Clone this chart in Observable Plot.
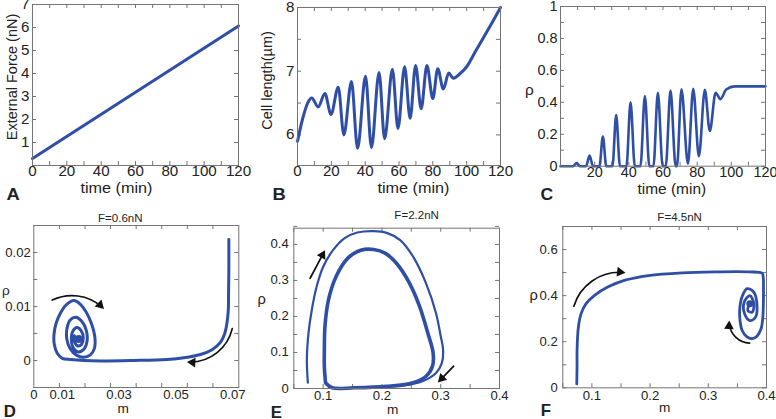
<!DOCTYPE html>
<html><head><meta charset="utf-8">
<script src="https://cdn.jsdelivr.net/npm/d3@7"></script>
<script src="https://cdn.jsdelivr.net/npm/@observablehq/plot@0.6"></script>
<style>
html,body{margin:0;padding:0;background:#fff;}
#fig{position:relative;width:776px;height:419px;overflow:hidden;background:#fff;}
#fig svg{position:absolute;left:0;top:0;}
</style></head><body><div id="fig"></div>
<script>
// ---------- Panel A: external force ----------
const forceTime = [0, 120];
const forceValue = [0.3, 6.07];
// ---------- Panel B: cell length ----------
const lengthTime  = [0, 3, 6, 8.4, 12.2, 16.2, 19.8, 24.1, 27.4, 31.9, 35.5, 40.2, 43.7, 48.2, 51.5, 56.1, 59.4, 63.3, 66.6, 69.8, 73.1, 76.5, 80, 82.9, 86.2, 89.4, 92.1, 96, 100, 105, 110, 115, 120];
const lengthValue = [5.9, 6.25, 6.5, 6.58, 6.44, 6.65, 6.32, 6.75, 6.0, 6.84, 5.79, 6.92, 5.80, 6.98, 5.94, 7.03, 6.10, 7.07, 6.26, 7.09, 6.41, 7.09, 6.57, 7.04, 6.72, 6.97, 6.89, 6.96, 7.07, 7.3, 7.53, 7.76, 8.0];
// ---------- Panel C: rho vs time ----------
const rhoTime  = [0, 7.5, 9.4, 11.3, 15, 17, 19, 22.8, 24.8, 26.8, 30.4, 32.6, 34.8, 38.6, 41.0, 43.5, 46.8, 49.4, 52, 54.4, 57.0, 59.8, 61.6, 64.4, 67.4, 68.2, 70.8, 74.6, 77.7, 81, 84.5, 87.4, 90.8, 93.6, 97, 102, 120];
const rhoValue = [0, 0, 0.02, 0, 0, 0.067, 0, 0, 0.186, 0, 0, 0.32, 0, 0, 0.40, 0, 0, 0.44, 0, 0, 0.46, 0, 0, 0.474, 0, 0, 0.482, 0.015, 0.484, 0.063, 0.478, 0.22, 0.46, 0.42, 0.48, 0.5, 0.5];
// ---------- Panel D: F = 0.6 nN ----------
const dM   = [0.0686, 0.0686, 0.0685, 0.0684, 0.0679, 0.0671, 0.0657, 0.0627, 0.0586, 0.0528, 0.0469, 0.0352, 0.0235, 0.0176, 0.0129, 0.0100, 0.0082, 0.0072, 0.0071, 0.0078, 0.0093, 0.0114, 0.0141, 0.0164, 0.0184, 0.0203, 0.0215, 0.0213, 0.0198, 0.0175, 0.0150, 0.0128, 0.0116, 0.0117, 0.0128, 0.0148, 0.0168, 0.0185, 0.0187, 0.0175, 0.0155, 0.0138, 0.0132, 0.0137, 0.0152, 0.0167, 0.0174, 0.0168, 0.0155, 0.0144, 0.0143];
const dRho = [0.0224, 0.0173, 0.0124, 0.0093, 0.0068, 0.0049, 0.0034, 0.0020, 0.0011, 0.0005, 0.0002, 0.0000, -0.0001, 0.0000, 0.0002, 0.0004, 0.0014, 0.0030, 0.0048, 0.0068, 0.0087, 0.0103, 0.0111, 0.0104, 0.0090, 0.0068, 0.0042, 0.0022, 0.0010, 0.0006, 0.0010, 0.0022, 0.0040, 0.0060, 0.0075, 0.0080, 0.0073, 0.0055, 0.0035, 0.0020, 0.0016, 0.0024, 0.0040, 0.0054, 0.0061, 0.0055, 0.0042, 0.0030, 0.0027, 0.0034, 0.0046];
const dCenter = [{m: 0.0158, rho: 0.0040}];
const dArrows = [
  {x1: 0.0065, y1: 0.0112, x2: 0.0246, y2: 0.0096, bend: 35},
  {x1: 0.0698, y1: 0.0059, x2: 0.0540, y2: -0.0003, bend: 40}
];
// ---------- Panel E: F = 2.2 nN ----------
const eOuterM   = [0.0739, 0.0722, 0.075, 0.0806, 0.0889, 0.100, 0.1167, 0.136, 0.158, 0.186, 0.208, 0.231, 0.253, 0.275, 0.292, 0.300, 0.304, 0.302, 0.292, 0.269, 0.236, 0.197, 0.153, 0.114, 0.106, 0.103];
const eOuterRho = [0.016, 0.080, 0.154, 0.218, 0.283, 0.338, 0.384, 0.417, 0.433, 0.437, 0.432, 0.412, 0.366, 0.292, 0.209, 0.145, 0.108, 0.071, 0.043, 0.020, 0.008, 0.004, 0.002, 0.002, 0.011, 0.043];
const eCycleM   = [0.104, 0.102, 0.102, 0.103, 0.109, 0.122, 0.142, 0.164, 0.186, 0.206, 0.225, 0.247, 0.264, 0.278, 0.287, 0.286, 0.275, 0.253, 0.208, 0.153, 0.115, 0.104];
const eCycleRho = [0.016, 0.060, 0.108, 0.172, 0.246, 0.311, 0.362, 0.384, 0.386, 0.375, 0.347, 0.292, 0.228, 0.154, 0.099, 0.062, 0.034, 0.016, 0.006, 0.002, 0.002, 0.016];
const eArrows = [
  {x1: 0.0778, y1: 0.306, x2: 0.1028, y2: 0.383, bend: 0},
  {x1: 0.322, y1: 0.062, x2: 0.2956, y2: 0.0175, bend: 0}
];
// ---------- Panel F: F = 4.5 nN ----------
const fM   = [0.074, 0.0745, 0.0745, 0.0768, 0.0815, 0.090, 0.1046, 0.128, 0.157, 0.197, 0.255, 0.313, 0.371, 0.3926, 0.3944, 0.3948, 0.3946, 0.3935, 0.3905, 0.384, 0.3754, 0.366, 0.358, 0.3545, 0.3541, 0.358, 0.3668, 0.3782, 0.3835, 0.3811, 0.3713, 0.3625, 0.3615, 0.3713, 0.3782, 0.3754, 0.368, 0.370];
const fRho = [0.017, 0.100, 0.162, 0.264, 0.322, 0.365, 0.401, 0.438, 0.467, 0.487, 0.499, 0.503, 0.503, 0.497, 0.480, 0.430, 0.360, 0.300, 0.255, 0.225, 0.213, 0.222, 0.250, 0.292, 0.345, 0.395, 0.430, 0.415, 0.365, 0.306, 0.292, 0.320, 0.370, 0.400, 0.365, 0.328, 0.335, 0.360];
const fCenter = [{m: 0.3713, rho: 0.365}];
const fArrows = [
  {x1: 0.069, y1: 0.354, x2: 0.157, y2: 0.500, bend: 40},
  {x1: 0.371, y1: 0.194, x2: 0.336, y2: 0.290, bend: 45}
];
// ---------- ticks & labels ----------
const timeTickMarks = [0, 10, 20, 30, 40, 50, 60, 70, 80, 90, 100, 110, 120];
const timeTickLabels = [0, 20, 40, 60, 80, 100, 120];
const timeTickLabelsC = [20, 40, 60, 80, 100, 120];
const forceTickMarks = [0, 1, 2, 3, 4, 5, 6, 7];
const forceTickLabels = [1, 2, 3, 4, 5, 6, 7];
const lengthTickMarks = [6, 6.5, 7, 7.5, 8];
const lengthTickLabels = [6, 7, 8];
const rhoCTickMarks = [0, 0.1, 0.2, 0.3, 0.4, 0.5, 0.6, 0.7, 0.8, 0.9, 1];
const rhoCTickLabels = [0, 0.2, 0.4, 0.6, 0.8, 1];
const dMTickMarks = [0.009, 0.018, 0.027, 0.036, 0.045, 0.054, 0.063];
const dMTickLabels = [0, 0.01, 0.03, 0.05, 0.07];
const dRhoTickMarks = [-0.005, 0, 0.005, 0.01, 0.015, 0.02, 0.025];
const dRhoTickLabels = [0, 0.01, 0.02];
const mTickMarks = [0.05, 0.1, 0.15, 0.2, 0.25, 0.3, 0.35, 0.4];
const mTickLabels = [0.1, 0.2, 0.3, 0.4];
const eRhoTickMarks = [0, 0.05, 0.1, 0.15, 0.2, 0.25, 0.3, 0.35, 0.4, 0.45];
const eRhoTickLabels = [0, 0.1, 0.2, 0.3, 0.4];
const fRhoTickMarks = [0, 0.1, 0.2, 0.3, 0.4, 0.5, 0.6, 0.7];
const fRhoTickLabels = [0, 0.2, 0.4, 0.6];

const BLUE = "#2f4ea5";
const FONT = "'Liberation Sans', Arial, Helvetica, sans-serif";
const TC = "#747474";
const W = 776, H = 419;

// widen horizontal text slightly (the reference figure is stretched horizontally)
function stretch(svg, k) {
  for (const t of svg.querySelectorAll("text")) {
    const tr = t.getAttribute("transform") || "";
    if (/rotate/.test(tr)) continue;
    const xa = t.getAttribute("x");
    let pre = "";
    if (xa != null && xa !== "" && !isNaN(+xa)) { pre = ` translate(${+xa},0)`; t.removeAttribute("x"); }
    t.setAttribute("transform", `${tr}${pre} scale(${k},1)`);
  }
}

function label(text, o) {
  return Plot.text([text], {text: d => d, fill: "#222", textAnchor: "middle", ...o});
}

// curved arrows with filled heads; the head is oriented along the arc's end tangent
function arrows(list, o) {
  const [L, T, R, B] = o.box;
  const sx = (R - L) / (o.xd[1] - o.xd[0]), sy = -(B - T) / (o.yd[1] - o.yd[0]);
  return list.flatMap(a => {
    const la = Math.atan2((a.y2 - a.y1) * sy, (a.x2 - a.x1) * sx);
    const phi = la + a.bend * Math.PI / 180;
    const off = 5.2;
    return [
      Plot.arrow([a], {x1: "x1", y1: "y1", x2: "x2", y2: "y2", bend: a.bend, stroke: "#111", strokeWidth: 1.7, headLength: 0, insetEnd: 3}),
      Plot.dot([a], {x: "x2", y: "y2", symbol: "triangle", r: 3.6, fill: "#111", stroke: "none",
        rotate: phi * 180 / Math.PI + 90, dx: -Math.cos(phi) * off, dy: -Math.sin(phi) * off})
    ];
  });
}

function panel(o) {
  const [L, T, R, B] = o.box;
  const fw = R - L, fh = B - T;
  const svg = Plot.plot({
    width: W, height: H,
    marginLeft: L, marginTop: T, marginRight: W - R, marginBottom: H - B,
    style: {fontFamily: FONT, fontSize: o.fs + "px", color: "#222", background: "transparent", overflow: "visible"},
    x: {domain: o.xd, ticks: o.xl, tickSize: 0, tickPadding: o.xp, tickFormat: d => String(d), label: null},
    y: {domain: o.yd, ticks: o.yl, tickSize: 0, tickPadding: o.yp, tickFormat: d => String(d), label: null},
    marks: [
      Plot.tickX(o.xt, {x: d => d, insetTop: fh - 4, stroke: TC}),
      Plot.tickX(o.xt, {x: d => d, insetBottom: fh - 4, stroke: TC}),
      Plot.tickY(o.yt, {y: d => d, insetRight: fw - 4, stroke: TC}),
      Plot.tickY(o.yt, {y: d => d, insetLeft: fw - 4, stroke: TC}),
      ...o.marks,
      ...(o.arrows ? arrows(o.arrows, o) : []),
      Plot.frame({stroke: TC}),
      ...o.texts
    ]
  });
  document.getElementById("fig").appendChild(svg);
  stretch(svg, o.k);
}

// A
panel({
  box: [32, 4, 238, 165], fs: 14, k: 1.08,
  xd: [0, 120], yd: [0, 7], xt: timeTickMarks, xl: timeTickLabels, yt: forceTickMarks, yl: forceTickLabels, xp: 1, yp: 3,
  marks: [Plot.line(forceTime, {x: forceTime, y: forceValue, stroke: BLUE, strokeWidth: 3})],
  texts: [
    label("time (min)", {frameAnchor: "bottom-left", dx: 48, dy: 27, textAnchor: "start", lineAnchor: "bottom", fontSize: 15}),
    label("External Force (nN)", {frameAnchor: "left", dx: -20, dy: -8, rotate: -90, lineAnchor: "middle", fontSize: 14.5}),
    label("A", {frameAnchor: "bottom-left", dx: -26, dy: 34, textAnchor: "start", lineAnchor: "bottom", fontSize: 17, fontWeight: "bold"})
  ]
});
// B
panel({
  box: [297, 7, 500, 165], fs: 14, k: 1.08,
  xd: [0, 120], yd: [5.52, 8], xt: timeTickMarks, xl: timeTickLabels, yt: lengthTickMarks, yl: lengthTickLabels, xp: 1, yp: 3,
  marks: [Plot.line(lengthTime, {x: lengthTime, y: lengthValue, stroke: BLUE, strokeWidth: 3, curve: "monotone-x"})],
  texts: [
    label("time (min)", {frameAnchor: "bottom-left", dx: 80, dy: 27, textAnchor: "start", lineAnchor: "bottom", fontSize: 15}),
    label("Cell length(µm)", {frameAnchor: "left", dx: -30, dy: -6, rotate: -90, lineAnchor: "middle", fontSize: 14.5}),
    label("B", {frameAnchor: "bottom-left", dx: -25, dy: 34, textAnchor: "start", lineAnchor: "bottom", fontSize: 17, fontWeight: "bold"})
  ]
});
// C
panel({
  box: [560, 6, 765, 165.7], fs: 14, k: 1.03,
  xd: [0, 120], yd: [0, 1], xt: timeTickMarks, xl: timeTickLabelsC, yt: rhoCTickMarks, yl: rhoCTickLabels, xp: 1, yp: 3,
  marks: [Plot.line(rhoTime, {x: rhoTime, y: rhoValue, stroke: BLUE, strokeWidth: 2.6, curve: "monotone-x"})],
  texts: [
    label("time (min)", {frameAnchor: "bottom-left", dx: 77, dy: 28, textAnchor: "start", lineAnchor: "bottom", fontSize: 15}),
    label("ρ", {frameAnchor: "left", dx: -31, dy: 4, lineAnchor: "middle", fontSize: 15}),
    label("C", {frameAnchor: "bottom-left", dx: -20, dy: 34, textAnchor: "start", lineAnchor: "bottom", fontSize: 17, fontWeight: "bold"})
  ]
});
// D
panel({
  box: [33.3, 225, 238.3, 387], fs: 12.5, k: 1.05,
  xd: [0, 0.0721], yd: [-0.005, 0.025], xt: dMTickMarks, xl: dMTickLabels, yt: dRhoTickMarks, yl: dRhoTickLabels, xp: 3, yp: 3,
  marks: [
    Plot.line(dM, {x: dM, y: dRho, stroke: BLUE, strokeWidth: 3, curve: "catmull-rom"}),
    Plot.dot(dCenter, {x: "m", y: "rho", r: 4, fill: BLUE})
  ],
  arrows: dArrows,
  texts: [
    label("F=0.6nN", {frameAnchor: "top", dx: -16, dy: -4, lineAnchor: "bottom", fontSize: 11}),
    label("m", {frameAnchor: "bottom", dx: -13, dy: 25, lineAnchor: "bottom", fontSize: 13}),
    label("ρ", {frameAnchor: "left", dx: -28, dy: -16, lineAnchor: "middle", fontSize: 13}),
    label("D", {frameAnchor: "bottom-left", dx: -30, dy: 29, textAnchor: "start", lineAnchor: "bottom", fontSize: 16, fontWeight: "bold"})
  ]
});
// E
panel({
  box: [293.3, 227.7, 499, 388], fs: 12.5, k: 1.05,
  xd: [0.05, 0.4], yd: [0, 0.445], xt: mTickMarks, xl: mTickLabels, yt: eRhoTickMarks, yl: eRhoTickLabels, xp: 3, yp: 5,
  marks: [
    Plot.line(eOuterM, {x: eOuterM, y: eOuterRho, stroke: BLUE, strokeWidth: 2.2, curve: "catmull-rom"}),
    Plot.line(eCycleM, {x: eCycleM, y: eCycleRho, stroke: BLUE, strokeWidth: 3.6, curve: "catmull-rom"})
  ],
  arrows: eArrows,
  texts: [
    label("F=2.2nN", {frameAnchor: "top", dx: 20, dy: -9, lineAnchor: "bottom", fontSize: 11}),
    label("m", {frameAnchor: "bottom", dx: -4, dy: 25, lineAnchor: "bottom", fontSize: 13}),
    label("ρ", {frameAnchor: "left", dx: -32, dy: -9, lineAnchor: "middle", fontSize: 14}),
    label("E", {frameAnchor: "bottom-left", dx: -23, dy: 29, textAnchor: "start", lineAnchor: "bottom", fontSize: 16, fontWeight: "bold"})
  ]
});
// F
panel({
  box: [562.3, 226, 766, 387.3], fs: 12.5, k: 1.05,
  xd: [0.05, 0.4], yd: [0, 0.7], xt: mTickMarks, xl: mTickLabels, yt: fRhoTickMarks, yl: fRhoTickLabels, xp: 3, yp: 5,
  marks: [
    Plot.line(fM, {x: fM, y: fRho, stroke: BLUE, strokeWidth: 2.8, curve: "catmull-rom"}),
    Plot.dot(fCenter, {x: "m", y: "rho", r: 3.5, fill: BLUE})
  ],
  arrows: fArrows,
  texts: [
    label("F=4.5nN", {frameAnchor: "top", dx: 15, dy: -6, lineAnchor: "bottom", fontSize: 11}),
    label("m", {frameAnchor: "bottom", dx: 0, dy: 24, lineAnchor: "bottom", fontSize: 13}),
    label("ρ", {frameAnchor: "left", dx: -29, dy: -12, lineAnchor: "middle", fontSize: 14}),
    label("F", {frameAnchor: "bottom-left", dx: -22, dy: 28, textAnchor: "start", lineAnchor: "bottom", fontSize: 16, fontWeight: "bold"})
  ]
});
</script></body></html>
